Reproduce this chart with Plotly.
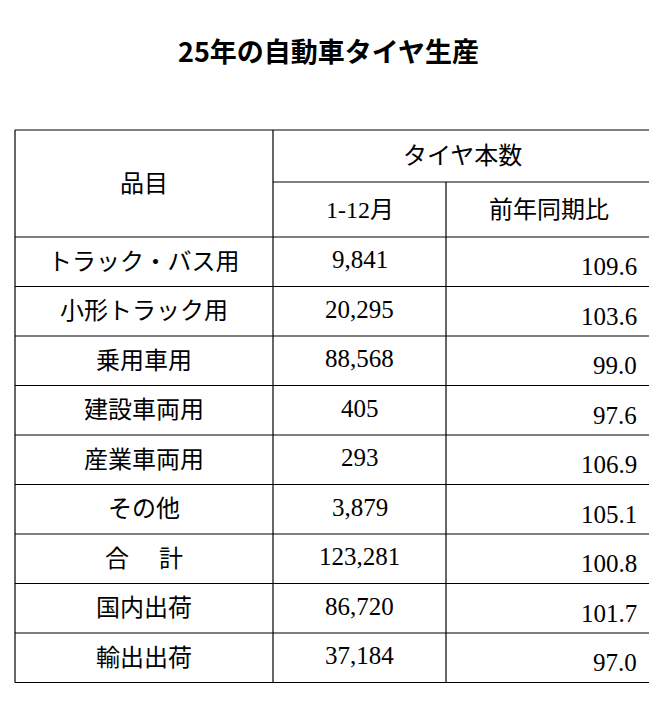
import plotly.graph_objects as go

items = ["トラック・バス用", "小形トラック用", "乗用車用", "建設車両用", "産業車両用", "その他", "合　 計", "国内出荷", "輸出出荷"]
counts = ["9,841", "20,295", "88,568", "405", "293", "3,879", "123,281", "86,720", "37,184"]
ratios = ["109.6", "103.6", "99.0", "97.6", "106.9", "105.1", "100.8", "101.7", "97.0"]

W, H = 657, 726
OFF = 8  # page body margin
L, C1, C2, R = 15, 273, 446, 651
TOP, HMID, HBOT = 130, 182, 237
RH = 49.5
FONT = "Liberation Serif, Noto Sans CJK JP"

fig = go.Figure()
fig.add_trace(go.Scatter(x=[OFF + 10], y=[OFF + 10], mode="markers", marker=dict(opacity=0), hoverinfo="skip", showlegend=False))

shapes = []
def line(x0, y0, x1, y1):
    shapes.append(dict(type="line", x0=x0, y0=y0, x1=x1, y1=y1, line=dict(color="black", width=1.2)))

n = len(items)
BOT = HBOT + RH * n
line(L, TOP, R, TOP)
line(C1, HMID, R, HMID)
for i in range(n + 1):
    line(L, HBOT + RH * i, R, HBOT + RH * i)
line(L, TOP, L, BOT)
line(R, TOP, R, BOT)
line(C1, TOP, C1, BOT)
line(C2, HMID, C2, BOT)

ann = []
def txt(x, y, s, size=25, xanchor="center", family=FONT, bold=False):
    ann.append(dict(x=x, y=y, text=("<b>%s</b>" % s) if bold else s, showarrow=False, xanchor=xanchor,
                    yanchor="middle", font=dict(size=size, family=family, color="black")))

txt(328, 50, "25年の自動車タイヤ生産", size=27, family="Noto Sans CJK JP", bold=True)
txt(5, 103, "単位:千本、%", size=20, xanchor="left")
txt(650, 103, "JATMA", size=20, xanchor="right")
txt((L + C1) / 2, (TOP + HBOT) / 2, "品目", size=24)
txt((C1 + R) / 2, (TOP + HMID) / 2, "タイヤ本数", size=24)
txt((C1 + C2) / 2, (HMID + HBOT) / 2, "1-12月", size=24)
txt((C2 + R) / 2, (HMID + HBOT) / 2, "前年同期比", size=24)
for i in range(n):
    yc = HBOT + RH * i + RH / 2
    txt((L + C1) / 2, yc, items[i], size=24)
    txt((C1 + C2) / 2, yc - 2, counts[i], size=25)
    txt(R - 12, yc + 5, ratios[i], size=25, xanchor="right")

fig.update_layout(width=W - 2 * OFF, height=H - 2 * OFF, margin=dict(l=0, r=0, t=0, b=0),
                  paper_bgcolor="white", plot_bgcolor="white",
                  xaxis=dict(range=[OFF, W - OFF], visible=False, fixedrange=True),
                  yaxis=dict(range=[H - OFF, OFF], visible=False, fixedrange=True),
                  shapes=shapes, annotations=ann)
fig.write_html("out.html")
